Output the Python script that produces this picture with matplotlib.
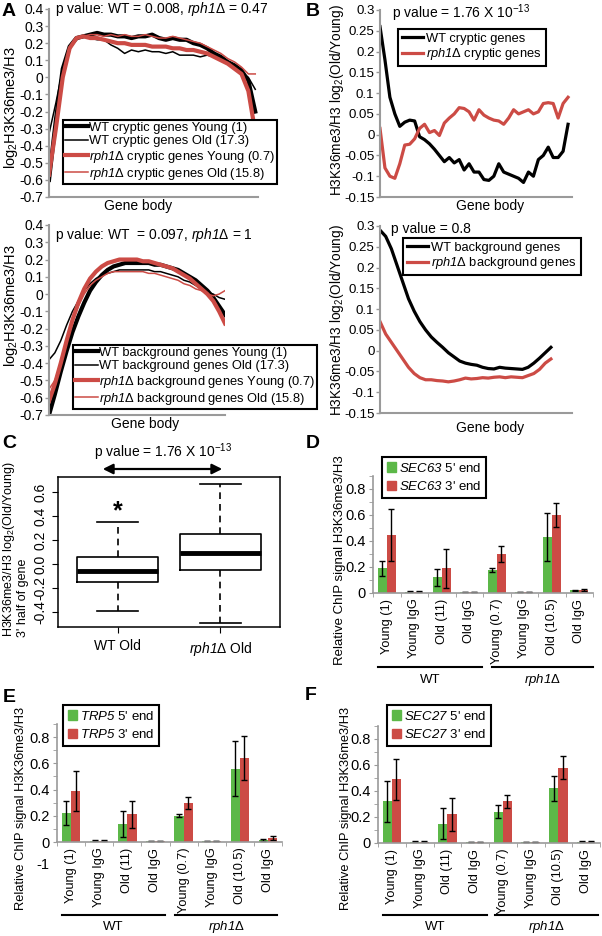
import numpy as np
import matplotlib.pyplot as plt
from matplotlib.patches import Patch

plt.rcParams['font.family'] = ['Liberation Sans', 'DejaVu Sans']
plt.rcParams['mathtext.fontset'] = 'custom'
plt.rcParams['mathtext.rm'] = 'Liberation Sans'
plt.rcParams['mathtext.it'] = 'Liberation Sans:italic'
plt.rcParams['mathtext.sf'] = 'Liberation Sans:italic'  # italic gene names, digits included
plt.rcParams['font.size'] = 9

W, H = 602, 936
RED = '#cc4b45'
GREEN = '#5cb848'
GREY = '#9a9a9a'
RPH = r'$\mathsf{rph1}$Δ'

# ---------------- data ----------------
# A: log2 H3K36me3/H3 profiles along the gene body
a_cry_wt_young = [-0.6, -0.25, 0.05, 0.18, 0.23, 0.24, 0.25, 0.26, 0.25, 0.25, 0.24, 0.24, 0.23, 0.24, 0.24,
                  0.25, 0.23, 0.22, 0.23, 0.22, 0.22, 0.2, 0.19, 0.17, 0.14, 0.12, 0.09, 0.07, 0.04, -0.02, -0.2]
a_cry_wt_old = [-0.33, -0.15, 0.05, 0.18, 0.22, 0.24, 0.23, 0.22, 0.22, 0.19, 0.17, 0.14, 0.16, 0.15, 0.16,
                0.15, 0.15, 0.14, 0.15, 0.13, 0.13, 0.13, 0.12, 0.13, 0.12, 0.1, 0.08, 0.06, 0.03, 0.0, -0.07]
a_cry_rph_young = [-0.57, -0.3, 0.0, 0.17, 0.23, 0.24, 0.23, 0.23, 0.22, 0.21, 0.2, 0.2, 0.19, 0.19, 0.19,
                   0.18, 0.18, 0.18, 0.17, 0.17, 0.16, 0.16, 0.15, 0.14, 0.12, 0.1, 0.08, 0.05, 0.02, -0.08, -0.32]
a_cry_rph_old = [-0.55, -0.28, 0.02, 0.18, 0.23, 0.24, 0.25, 0.25, 0.24, 0.25, 0.24, 0.25, 0.24, 0.24, 0.25,
                 0.24, 0.23, 0.23, 0.24, 0.23, 0.22, 0.21, 0.2, 0.18, 0.16, 0.14, 0.11, 0.09, 0.06, 0.02, 0.02]

a_bg_wt_young = [-0.7, -0.58, -0.45, -0.33, -0.22, -0.13, -0.05, 0.02, 0.07, 0.11, 0.14, 0.16, 0.17, 0.18, 0.18,
                 0.18, 0.18, 0.18, 0.17, 0.17, 0.16, 0.15, 0.14, 0.12, 0.1, 0.08, 0.05, 0.02, -0.02, -0.07, -0.12]
a_bg_wt_old = [-0.38, -0.34, -0.27, -0.18, -0.1, -0.04, 0.02, 0.06, 0.09, 0.11, 0.12, 0.13, 0.14, 0.14, 0.14,
               0.14, 0.14, 0.14, 0.13, 0.13, 0.12, 0.11, 0.1, 0.08, 0.07, 0.05, 0.03, 0.01, 0.0, -0.02, -0.03]
a_bg_rph_young = [-0.62, -0.52, -0.4, -0.27, -0.15, -0.05, 0.03, 0.09, 0.13, 0.16, 0.18, 0.19, 0.2, 0.2, 0.2,
                  0.2, 0.19, 0.19, 0.18, 0.17, 0.16, 0.15, 0.13, 0.11, 0.09, 0.06, 0.03, 0.0, -0.04, -0.1, -0.17]
a_bg_rph_old = [-0.55, -0.5, -0.4, -0.28, -0.16, -0.07, 0.0, 0.05, 0.08, 0.1, 0.12, 0.13, 0.13, 0.13, 0.13,
                0.13, 0.13, 0.12, 0.12, 0.11, 0.1, 0.09, 0.08, 0.06, 0.05, 0.03, 0.02, 0.0, -0.01, 0.0, 0.02]

# B: log2(Old/Young) profiles
b_cry_wt = [0.26, 0.18, 0.09, 0.05, 0.02, 0.03, 0.035, 0.033, -0.005, -0.012, -0.022, -0.035, -0.05, -0.065,
            -0.055, -0.068, -0.06, -0.085, -0.07, -0.09, -0.09, -0.108, -0.11, -0.1, -0.07, -0.09, -0.095, -0.1,
            -0.105, -0.115, -0.09, -0.1, -0.06, -0.05, -0.03, -0.055, -0.055, -0.04, 0.025]
b_cry_rph = [0.015, -0.08, -0.1, -0.105, -0.07, -0.025, -0.023, -0.01, 0.015, 0.025, 0.005, 0.01, -0.002, 0.028,
             0.04, 0.05, 0.065, 0.063, 0.055, 0.035, 0.06, 0.047, 0.04, 0.035, 0.033, 0.025, 0.04, 0.06, 0.05,
             0.055, 0.06, 0.05, 0.055, 0.075, 0.077, 0.075, 0.04, 0.075, 0.09]
b_bg_wt = [0.29, 0.275, 0.245, 0.205, 0.165, 0.125, 0.095, 0.07, 0.05, 0.033, 0.02, 0.008, -0.005, -0.015, -0.025,
           -0.03, -0.033, -0.035, -0.04, -0.043, -0.044, -0.04, -0.042, -0.043, -0.044, -0.045, -0.04, -0.03,
           -0.018, -0.005, 0.008]
b_bg_rph = [0.07, 0.04, 0.02, 0.0, -0.02, -0.04, -0.055, -0.065, -0.07, -0.07, -0.072, -0.073, -0.075, -0.073,
            -0.07, -0.066, -0.068, -0.067, -0.065, -0.066, -0.064, -0.063, -0.065, -0.063, -0.064, -0.065, -0.06,
            -0.055, -0.045, -0.03, -0.02]

# C: box plot statistics (3' half of gene)
c_groups = ['WT Old', RPH + ' Old']
c_med = [-0.06, 0.09]
c_q1 = [-0.15, -0.05]
c_q3 = [0.055, 0.25]
c_lo = [-0.39, -0.49]
c_hi = [0.35, 0.67]

# D-F: relative ChIP signal
bar_labels = ['Young (1)', 'Young IgG', 'Old (11)', 'Old IgG', 'Young (0.7)', 'Young IgG', 'Old (10.5)', 'Old IgG']
d_5 = [0.19, 0.01, 0.12, 0.005, 0.18, 0.005, 0.43, 0.02]
d_5_err = [0.06, 0.002, 0.065, 0.001, 0.015, 0.001, 0.185, 0.005]
d_3 = [0.45, 0.01, 0.19, 0.005, 0.30, 0.005, 0.60, 0.02]
d_3_err = [0.2, 0.002, 0.15, 0.001, 0.065, 0.001, 0.09, 0.008]
e_5 = [0.22, 0.01, 0.14, 0.005, 0.20, 0.005, 0.56, 0.015]
e_5_err = [0.09, 0.002, 0.1, 0.001, 0.012, 0.001, 0.21, 0.01]
e_3 = [0.39, 0.01, 0.21, 0.01, 0.30, 0.005, 0.64, 0.03]
e_3_err = [0.15, 0.002, 0.1, 0.001, 0.045, 0.001, 0.165, 0.015]
f_5 = [0.32, 0.01, 0.15, 0.01, 0.24, 0.005, 0.42, 0.01]
f_5_err = [0.16, 0.002, 0.12, 0.001, 0.05, 0.001, 0.095, 0.003]
f_3 = [0.49, 0.01, 0.22, 0.01, 0.32, 0.005, 0.58, 0.01]
f_3_err = [0.16, 0.002, 0.125, 0.001, 0.05, 0.001, 0.09, 0.003]

fig = plt.figure(figsize=(W / 100, H / 100), dpi=100)


def panel(l, t, r, b):
    return fig.add_axes([l / W, 1 - b / H, (r - l) / W, (b - t) / H])


def ftext(x, y, s, **kw):
    return fig.text(x / W, 1 - y / H, s, **kw)


def profile_axes(ax, lo, hi, step, xmax, size):
    ticks = np.round(np.arange(lo, hi + step / 2, step), 2) + 0.0
    ax.set_xlim(0, xmax)
    ax.set_ylim(lo, hi)
    ax.set_yticks(ticks)
    ax.set_yticklabels([f'{t:g}' for t in ticks])
    ax.set_xticks([])
    for s in ('top', 'right'):
        ax.spines[s].set_visible(False)
    for s in ('left', 'bottom'):
        ax.spines[s].set_color(GREY)
        ax.spines[s].set_linewidth(1.5)
    ax.tick_params(axis='y', color=GREY, length=3, width=1, pad=1, labelsize=size)


def legend_at(ax, handles, labels, l, t, **kw):
    leg = ax.legend(handles, labels, loc='upper left', bbox_to_anchor=(l / W, 1 - t / H),
                    bbox_transform=fig.transFigure, borderaxespad=0, fancybox=False,
                    framealpha=1, edgecolor='black', **kw)
    leg.get_frame().set_linewidth(1.5)
    return leg


# ---------- A top ----------
ax = panel(49, 9, 258, 197)
profile_axes(ax, -0.7, 0.4, 0.1, 30.4, 10)
h1, = ax.plot(a_cry_wt_young, color='black', lw=3)
h2, = ax.plot(a_cry_wt_old, color='black', lw=1.1)
h3, = ax.plot(a_cry_rph_young, color=RED, lw=3)
h4, = ax.plot(a_cry_rph_old, color=RED, lw=1.1)
legend_at(ax, [h1, h2, h3, h4],
          ['WT cryptic genes Young (1)', 'WT cryptic genes Old (17.3)',
           RPH + ' cryptic genes Young (0.7)', RPH + ' cryptic genes Old (15.8)'],
          63, 120, fontsize=9.3, handlelength=1.8, handletextpad=0.1, labelspacing=0.1, borderpad=0.15)
ftext(55, 9, 'p value: WT = 0.008, ' + RPH + ' = 0.47', ha='left', va='center', fontsize=10)
ftext(138, 206, 'Gene body', ha='center', va='center', fontsize=10)
ftext(11, 107, r'log$_2$H3K36me3/H3', rotation=90, ha='center', va='center', fontsize=10.5)

# ---------- A bottom ----------
ax = panel(49, 225, 225, 415)
profile_axes(ax, -0.7, 0.4, 0.1, 30, 10)
h1, = ax.plot(a_bg_wt_young, color='black', lw=3)
h2, = ax.plot(a_bg_wt_old, color='black', lw=1.1)
h3, = ax.plot(a_bg_rph_young, color=RED, lw=3)
h4, = ax.plot(a_bg_rph_old, color=RED, lw=1.1)
legend_at(ax, [h1, h2, h3, h4],
          ['WT background genes Young (1)', 'WT background genes Old (17.3)',
           RPH + ' background genes Young (0.7)', RPH + ' background genes Old (15.8)'],
          73, 345, fontsize=9.3, handlelength=1.8, handletextpad=0.1, labelspacing=0.1, borderpad=0.15)
ftext(55, 235, 'p value: WT  = 0.097, ' + RPH + ' = 1', ha='left', va='center', fontsize=10)
ftext(145, 424, 'Gene body', ha='center', va='center', fontsize=10)
ftext(11, 305, r'log$_2$H3K36me3/H3', rotation=90, ha='center', va='center', fontsize=10.5)

# ---------- B top ----------
ax = panel(380, 10, 572, 197)
profile_axes(ax, -0.15, 0.3, 0.05, 38.8, 9.5)
h1, = ax.plot(b_cry_wt, color='black', lw=2.3)
h2, = ax.plot(b_cry_rph, color=RED, lw=2.3)
legend_at(ax, [h1, h2], ['WT cryptic genes', RPH + ' cryptic genes'],
          398, 29, fontsize=9.3, handlelength=1.6, handletextpad=0.3, labelspacing=0.1, borderpad=0.3)
ftext(392, 13, r'p value = 1.76 X 10$^{-13}$', ha='left', va='center', fontsize=10)
ftext(490, 206, 'Gene body', ha='center', va='center', fontsize=10)
ftext(337, 100, r'H3K36me3/H3 log$_2$(Old/Young)', rotation=90, ha='center', va='center', fontsize=9.8)

# ---------- B bottom ----------
ax = panel(380, 226, 572, 413)
profile_axes(ax, -0.15, 0.3, 0.05, 33.7, 9.5)
h1, = ax.plot(b_bg_wt, color='black', lw=2.3)
h2, = ax.plot(b_bg_rph, color=RED, lw=2.3)
legend_at(ax, [h1, h2], ['WT background genes', RPH + ' background genes'],
          403, 238, fontsize=9.3, handlelength=1.6, handletextpad=0.3, labelspacing=0.1, borderpad=0.3)
ftext(391, 229, 'p value = 0.8', ha='left', va='center', fontsize=10)
ftext(490, 428, 'Gene body', ha='center', va='center', fontsize=10)
ftext(337, 320, r'H3K36me3/H3 log$_2$(Old/Young)', rotation=90, ha='center', va='center', fontsize=9.8)

# ---------- C ----------
ax = panel(58, 477, 280, 627)
stats = [dict(med=c_med[i], q1=c_q1[i], q3=c_q3[i], whislo=c_lo[i], whishi=c_hi[i], label=c_groups[i])
         for i in range(2)]
ax.bxp(stats, positions=[1, 2], widths=0.79, capwidths=0.4, showfliers=False,
       boxprops=dict(color='black', lw=1.2),
       whiskerprops=dict(color='black', lw=1.2, linestyle=(0, (4, 3))),
       capprops=dict(color='black', lw=1.2),
       medianprops=dict(color='black', lw=3.5))
ax.set_xlim(0.42, 2.58)
ax.set_ylim(-0.525, 0.725)
cticks = np.round(np.arange(-0.4, 0.61, 0.2), 1) + 0.0
ax.set_yticks(cticks)
ax.set_yticklabels([f'{t:.1f}' for t in cticks], rotation=90, va='center')
ax.tick_params(axis='both', length=4, labelsize=10)
ax.tick_params(axis='x', pad=5)
for s in ax.spines.values():
    s.set_linewidth(1.1)
ax.text(1, 0.44, '*', ha='center', va='center', fontsize=18, fontweight='bold')
fig.add_artist(plt.Annotation('', xy=(225 / W, 1 - 469 / H), xytext=(100 / W, 1 - 469 / H),
                              xycoords='figure fraction',
                              arrowprops=dict(arrowstyle='<|-|>', color='black', lw=1.6, mutation_scale=15)))
ftext(163, 452, r'p value = 1.76 X 10$^{-13}$', ha='center', va='center', fontsize=10)
ftext(15, 637, "H3K36me3/H3 log$_2$(Old/Young)\n3' half of gene", rotation=90, ha='center',
      va='bottom', multialignment='left', fontsize=9, linespacing=1.0)


# ---------- D-F bars ----------
def bar_panel(ax, v5, e5, v3, e3, gene, leg_l, leg_t):
    x = np.arange(len(v5))
    w = 0.33
    ek = dict(lw=1, capthick=1)
    ax.bar(x - w / 2, v5, w, color=GREEN, yerr=e5, ecolor='black', capsize=2, error_kw=ek)
    ax.bar(x + w / 2, v3, w, color=RED, yerr=e3, ecolor='black', capsize=2, error_kw=ek)
    ax.set_xlim(-0.5, len(v5) - 0.5)
    ax.set_ylim(0, 0.9)
    ax.set_yticks([0, 0.2, 0.4, 0.6, 0.8])
    ax.set_yticklabels(['0', '0.2', '0.4', '0.6', '0.8'])
    ax.set_yticks(np.arange(0, 0.91, 0.1), minor=True)
    ax.set_xticks(x)
    ax.set_xticklabels(bar_labels, rotation=90, fontsize=9.2)
    ax.set_xticks(np.arange(-0.5, len(v5), 1), minor=True)
    ax.tick_params(axis='x', which='major', length=0, pad=4)
    ax.tick_params(axis='x', which='minor', length=3, color=GREY)
    ax.tick_params(axis='y', which='both', color=GREY, length=3, labelsize=10.5, pad=2)
    for s in ('top', 'right'):
        ax.spines[s].set_visible(False)
    for s in ('left', 'bottom'):
        ax.spines[s].set_color(GREY)
        ax.spines[s].set_linewidth(1.2)
    hp5 = Patch(color=GREEN)
    hp3 = Patch(color=RED)
    legend_at(ax, [hp5, hp3], [r'$\mathsf{' + gene + '}$ 5\' end', r'$\mathsf{' + gene + '}$ 3\' end'],
              leg_l, leg_t, fontsize=9.5, handlelength=0.7, handleheight=0.7, handletextpad=0.25,
              labelspacing=0.4, borderpad=0.35)


def group_lines(y, wt_span, rph_span, label_y):
    for (l, r), lab in ((wt_span, 'WT'), (rph_span, RPH)):
        fig.add_artist(plt.Line2D([l / W, r / W], [1 - y / H, 1 - y / H], color='black', lw=1.5))
        ftext((l + r) / 2, label_y, lab, ha='center', va='center', fontsize=9.5)


ax = panel(373, 476, 593, 593)
bar_panel(ax, d_5, d_5_err, d_3, d_3_err, 'SEC63', 382, 457)
group_lines(667, (378, 482), (492, 593), 680)
ftext(340, 560, 'Relative ChIP signal H3K36me3/H3', rotation=90, ha='center', va='center', fontsize=9.5)

ax = panel(57, 724, 282, 842)
bar_panel(ax, e_5, e_5_err, e_3, e_3_err, 'TRP5', 63, 705)
group_lines(915, (62, 165), (175, 277), 927)
ftext(21, 808, 'Relative ChIP signal H3K36me3/H3', rotation=90, ha='center', va='center', fontsize=9.3)
ftext(43, 865, '-1', ha='center', va='center', fontsize=10.5)

ax = panel(378, 726, 600, 843)
bar_panel(ax, f_5, f_5_err, f_3, f_3_err, 'SEC27', 387, 705)
group_lines(915, (383, 487), (495, 598), 927)
ftext(346, 808, 'Relative ChIP signal H3K36me3/H3', rotation=90, ha='center', va='center', fontsize=9.3)

# panel letters
for lab, x, y in (('A', 9, 12), ('B', 313, 12), ('C', 9, 444), ('D', 313, 443), ('E', 9, 697), ('F', 311, 696)):
    ftext(x, y, lab, ha='center', va='center', fontsize=14, fontweight='bold')

fig.savefig('out.png', dpi=100)
